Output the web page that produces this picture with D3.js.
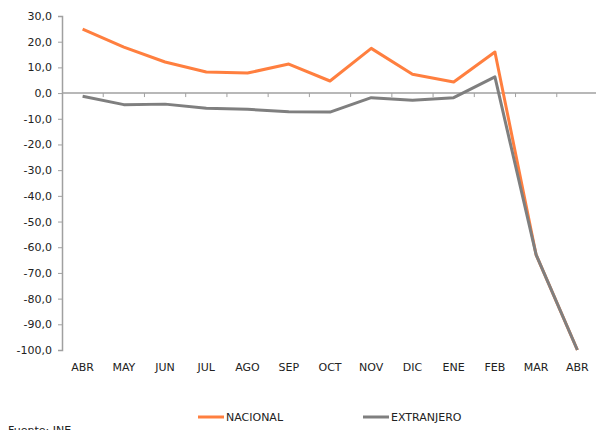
<!DOCTYPE html>
<html>
<head>
<meta charset="utf-8">
<script src="https://cdn.jsdelivr.net/npm/d3@7"></script>
<style>
body { margin: 0; background: #fff; }
text { font-family: "DejaVu Sans", Verdana, sans-serif; }
</style>
</head>
<body>
<script>
// months on the category axis
var months = ["ABR", "MAY", "JUN", "JUL", "AGO", "SEP", "OCT", "NOV", "DIC", "ENE", "FEB", "MAR", "ABR"]
var nacional = [24.9, 17.9, 12.1, 8.2, 7.8, 11.3, 4.7, 17.4, 7.3, 4.3, 16.0, -63.0, -100.0]
var extranjero = [-1.2, -4.5, -4.3, -5.9, -6.3, -7.3, -7.4, -1.8, -2.8, -1.8, 6.3, -63.0, -100.0]
var yTicks = [30, 20, 10, 0, -10, -20, -30, -40, -50, -60, -70, -80, -90, -100]
var seriesNames = ["NACIONAL", "EXTRANJERO"]
var colors = ["#ff7f3f", "#7f7f7f"]

var width = 596, height = 430
var plotLeft = 62, plotRight = 598, plotTop = 16, plotBottom = 350

var svg = d3.select("body").append("svg").attr("width", width).attr("height", height)

var idx = d3.range(months.length)
var x = d3.scaleBand().domain(idx).range([plotLeft, plotRight])
var y = d3.scaleLinear().domain([-100, 30]).range([plotBottom, plotTop])

// y axis
var yAxis = svg.append("g").attr("transform", "translate(" + plotLeft + ",0)")
  .call(d3.axisLeft(y).tickValues(yTicks).tickSize(4).tickPadding(6)
    .tickFormat(function(d) { return d3.format(".1f")(d).replace(".", ",").replace("−", "-") }))
yAxis.select(".domain").attr("stroke", "#a0a0a0").attr("stroke-width", 1.5)
yAxis.selectAll(".tick line").attr("stroke", "#a0a0a0")
yAxis.selectAll(".tick text").attr("fill", "#222").style("font-size", "11px")

// x axis across the zero line, ticks between categories
svg.append("line").attr("x1", plotLeft).attr("x2", width).attr("y1", y(0)).attr("y2", y(0))
  .attr("stroke", "#a0a0a0").attr("stroke-width", 1.5)
svg.selectAll(".xtick").data(d3.range(1, months.length)).enter().append("line")
  .attr("x1", function(d) { return plotLeft + d * x.step() }).attr("x2", function(d) { return plotLeft + d * x.step() })
  .attr("y1", y(0)).attr("y2", y(0) + 4).attr("stroke", "#a0a0a0")

svg.selectAll(".xlabel").data(idx).enter().append("text")
  .attr("x", function(d) { return x(d) + x.bandwidth() / 2 })
  .attr("y", 371).attr("text-anchor", "middle")
  .style("font-size", "11px").attr("fill", "#222")
  .text(function(d) { return months[d] })

var line = d3.line()
  .x(function(d, i) { return x(i) + x.bandwidth() / 2 })
  .y(function(d) { return y(d) })

var series = [nacional, extranjero]
series.forEach(function(s, k) {
  svg.append("path").datum(s).attr("d", line)
    .attr("fill", "none").attr("stroke", colors[k]).attr("stroke-width", 3)
    .attr("stroke-linejoin", "round")
})

// legend
var legX = [198, 363]
seriesNames.forEach(function(n, k) {
  svg.append("line").attr("x1", legX[k]).attr("x2", legX[k] + 26).attr("y1", 417).attr("y2", 417)
    .attr("stroke", colors[k]).attr("stroke-width", 3)
  svg.append("text").attr("x", legX[k] + 28).attr("y", 421)
    .style("font-size", "11px").attr("fill", "#222").text(n)
})

svg.append("text").attr("x", 8).attr("y", 434).style("font-size", "11px").attr("fill", "#222").text("Fuente: INE")
</script>
</body>
</html>
